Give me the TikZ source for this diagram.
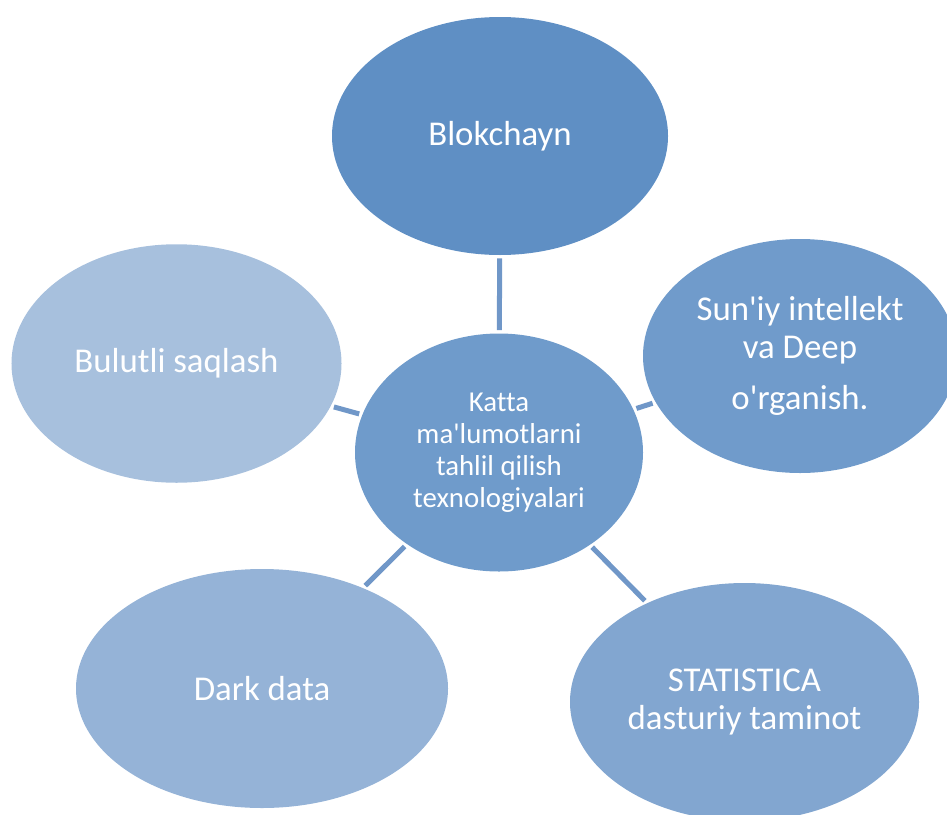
\documentclass[tikz,border=0pt]{standalone}
\usepackage{fontspec}
\setmainfont{Carlito}[Ligatures={TeXOff,NoCommon}]
\usetikzlibrary{shapes.geometric}
\definecolor{hubblue}{HTML}{6F9BCB}
\definecolor{blokblue}{HTML}{5F8FC4}
\definecolor{aiblue}{HTML}{709BCB}
\definecolor{cloudblue}{HTML}{A7C0DD}
\definecolor{darkblue}{HTML}{95B3D7}
\definecolor{statblue}{HTML}{82A6D0}
\definecolor{linkblue}{HTML}{7097C8}

\begin{document}
\begin{tikzpicture}[scale=1.0,
  bubble/.style={ellipse,inner sep=0pt,text=white,align=center,
    font=\fontsize{19.8}{21.8}\selectfont},
  link/.style={draw=linkblue,line width=2.85pt,
    shorten <=0.06cm,shorten >=0.06cm}]
  \useasboundingbox (0,0) rectangle (18.94,-16.28);
  \clip (0,0) rectangle (18.94,-16.28);
  \node[bubble,fill=hubblue,minimum width=5.76cm,minimum height=4.76cm,
    font=\fontsize{16.4}{18.2}\selectfont] (hub) at (9.98,-9.05)
    {Katta\\ma'lumotlarni\\tahlil qilish\\texnologiyalari};
  \node[bubble,fill=blokblue,minimum width=6.72cm,minimum height=4.76cm]
    (blok) at (10.0,-2.72) {Blokchayn};
  \node[bubble,fill=cloudblue,minimum width=6.6cm,minimum height=4.77cm]
    (cloud) at (3.53,-7.27) {Bulutli saqlash};
  \node[bubble,fill=aiblue,minimum width=6.28cm,minimum height=4.68cm]
    (ai) at (16.0,-7.12) {Sun'iy intellekt\\va Deep\\[7.4pt]o'rganish.};
  \node[bubble,fill=darkblue,minimum width=7.44cm,minimum height=4.78cm]
    (dark) at (5.24,-13.77) {Dark data};
  \node[bubble,fill=statblue,minimum width=6.98cm,minimum height=4.76cm]
    (stat) at (14.89,-14.04) {STATISTICA\\dasturiy taminot};
  \draw[link] (hub) -- (blok);
  \draw[link] (hub) -- (cloud);
  \draw[link] (hub) -- (ai);
  \draw[link] (hub) -- (dark);
  \draw[link] (hub) -- (stat);
\end{tikzpicture}
\end{document}
